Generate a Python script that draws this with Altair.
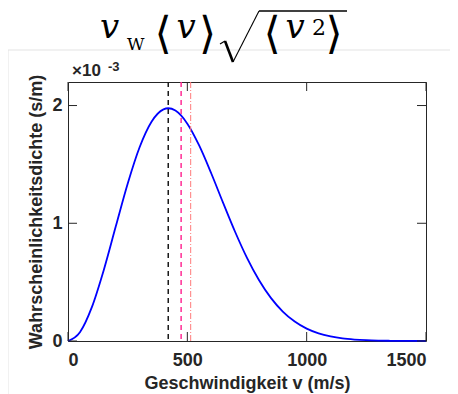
import altair as alt
import pandas as pd

# ---- data ----
speed = [0, 50, 100, 150, 200, 250, 300, 350, 400, 420, 450, 500, 550, 600, 650,
         700, 750, 800, 850, 900, 950, 1000, 1050, 1100, 1150, 1200, 1250, 1300,
         1350, 1400, 1450, 1500]
density = [0.0, 0.075, 0.288, 0.604, 0.972, 1.336, 1.646, 1.863, 1.968, 1.977,
           1.957, 1.846, 1.659, 1.425, 1.173, 0.928, 0.706, 0.518, 0.366, 0.250,
           0.165, 0.105, 0.065, 0.039, 0.022, 0.0125, 0.0068, 0.0036, 0.0018,
           0.0009, 0.0004, 0.0002]  # in units of 1e-3 s/m

line_names = ["vw", "mean", "rms"]
line_speeds = [420, 474, 514]

x_ticks = [0, 500, 1000, 1500]
y_ticks = [0, 1, 2]

W, H = 358, 259

curve_df = pd.DataFrame({"v": speed, "f": density})
lines_df = pd.DataFrame({"name": line_names, "v": line_speeds})
xt_df = pd.DataFrame({"t": x_ticks})
yt_df = pd.DataFrame({"t": y_ticks})
one = pd.DataFrame({"k": [0]})

xscale = alt.Scale(domain=[0, 1500], nice=False, zero=False)
yscale = alt.Scale(domain=[0, 2.2], nice=False, zero=False)

AX = "#262626"
FONT = "Liberation Sans"

def seg(x1, y1, x2, y2, w=1.0, color="black", cap="butt"):
    return alt.Chart(one).mark_rule(strokeWidth=w, color=color, strokeCap=cap).encode(
        x=alt.value(x1), y=alt.value(y1), x2=alt.value(x2), y2=alt.value(y2))

def txt(s, x, y, size, font="DejaVu Serif", style="normal", weight="normal",
        align="left", color="black"):
    return alt.Chart(one).mark_text(text=s, font=font, fontSize=size, fontStyle=style,
                                    fontWeight=weight, align=align,
                                    baseline="alphabetic", color=color).encode(
        x=alt.value(x), y=alt.value(y))

# figure border (light gray)
border = [
    seg(-60, -32, 400, -32, 1, "#e3e3e3"),
    seg(-60, -32, -60, 330, 1, "#e3e3e3"),
]

curve = alt.Chart(curve_df).mark_line(color="#0000ff", strokeWidth=1.8,
                                      interpolate="monotone").encode(
    x=alt.X("v:Q", scale=xscale,
            axis=alt.Axis(values=x_ticks, format="d", title="Geschwindigkeit v (m/s)",
                          titleX=W / 2, titleY=47, titleAlign="center",
                          titleBaseline="alphabetic", labelPadding=10)),
    y=alt.Y("f:Q", scale=yscale,
            axis=alt.Axis(values=y_ticks, format="d",
                          title="Wahrscheinlichkeitsdichte (s/m)",
                          titleX=-27, titleY=H / 2, titleAngle=-90,
                          titleAlign="center", titleBaseline="alphabetic",
                          labelPadding=6)),
)

def vline(name, color, dash, w):
    return alt.Chart(lines_df).transform_filter(alt.datum.name == name).mark_rule(
        color=color, strokeDash=dash, strokeWidth=w).encode(
        x=alt.X("v:Q", scale=xscale))

vlines = [
    vline("vw", "#1a1a1a", [5, 4], 1.5),
    vline("mean", "#ff2d95", [5, 4], 1.5),
    vline("rms", "#ff7a7a", [6, 2, 1, 2], 1.0),
]

TL = 9
ticks = [
    alt.Chart(xt_df).mark_rule(color=AX, strokeWidth=1).encode(
        x=alt.X("t:Q", scale=xscale), y=alt.value(H), y2=alt.value(H - TL)),
    alt.Chart(xt_df).mark_rule(color=AX, strokeWidth=1).encode(
        x=alt.X("t:Q", scale=xscale), y=alt.value(0), y2=alt.value(TL)),
    alt.Chart(yt_df).mark_rule(color=AX, strokeWidth=1).encode(
        y=alt.Y("t:Q", scale=yscale), x=alt.value(0), x2=alt.value(TL)),
    alt.Chart(yt_df).mark_rule(color=AX, strokeWidth=1).encode(
        y=alt.Y("t:Q", scale=yscale), x=alt.value(W), x2=alt.value(W - TL)),
]

# exponent label
expo = [
    txt("×10", 4, -6, 17, font=FONT, weight="bold", color=AX),
    txt("-3", 40, -11, 13, font=FONT, weight="bold", color=AX),
]

# LaTeX-like title: v_W <v> sqrt(<v^2>)
title = [
    txt("v", 32, -44, 34, style="italic"),
    txt("W", 59, -32, 17),
    txt("⟨", 95, -34, 44, align="center"),
    txt("v", 118, -44, 34, style="italic", align="center"),
    txt("⟩", 139.5, -34, 44, align="center"),
    seg(152, -38, 157, -41, 1.2),
    seg(157, -41, 165, -20, 2.6),
    seg(165, -20, 191, -71, 1.1),
    seg(191, -71, 279, -71, 1.3),
    txt("⟨", 204, -34, 44, align="center"),
    txt("v", 227, -44, 34, style="italic", align="center"),
    txt("2", 251, -47, 22, align="center"),
    txt("⟩", 266, -34, 44, align="center"),
]

chart = alt.layer(*border, curve, *vlines, *ticks, *expo, *title).properties(
    width=W, height=H,
    autosize=alt.AutoSizeParams(type="none"),
    padding={"left": 60, "top": 74, "right": 24, "bottom": 53},
).configure_view(stroke=AX, strokeWidth=1).configure_axis(
    grid=False, ticks=False, tickSize=0, domain=False,
    labelFont=FONT, labelFontSize=18, labelFontWeight="bold", labelColor=AX,
    titleFont=FONT, titleFontSize=18, titleFontWeight="bold", titleColor=AX,
)

chart.save("out.html", embed_options={"renderer": "svg", "actions": False})
